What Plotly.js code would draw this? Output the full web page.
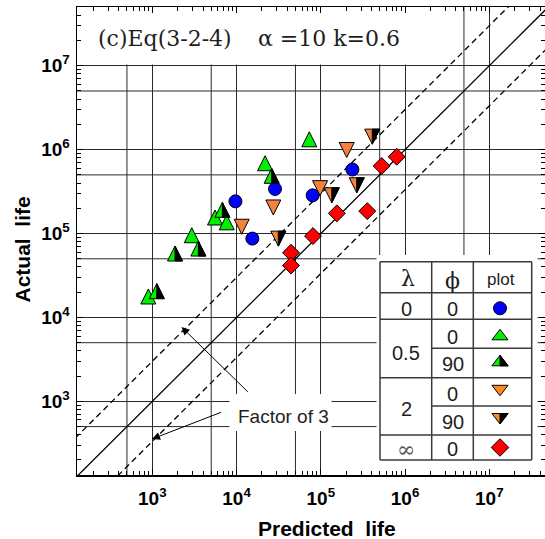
<!DOCTYPE html>
<html>
<head>
<meta charset="utf-8">
<script src="https://cdn.plot.ly/plotly-3.0.1.min.js"></script>
<style>html,body{margin:0;padding:0;background:#fff;}</style>
</head>
<body>
<div id="chart" style="width:545px;height:539px;"></div>
<script>
// Predicted vs. actual fatigue life, Eq(3-2-4), alpha = 10, k = 0.6

// lambda = 0, phi = 0
const predL0 = [9.7e3, 1.54e4, 2.86e4, 8.0e4, 2.37e5];
const actL0  = [2.42e5, 8.7e4, 3.4e5, 2.85e5, 5.8e5];
// lambda = 0.5, phi = 0
const predL05P0 = [897, 2.94e3, 5.55e3, 7.64e3, 2.18e4, 7.3e4];
const actL05P0  = [1.66e4, 8.91e4, 1.45e5, 1.27e5, 6.43e5, 1.24e6];
// lambda = 0.5, phi = 90
const predL05P90 = [1.13e3, 1.86e3, 3.52e3, 6.78e3, 2.61e4];
const actL05P90  = [1.92e4, 5.40e4, 6.18e4, 1.79e5, 4.55e5];
// lambda = 2, phi = 0
const predL2P0 = [1.15e4, 2.73e4, 9.8e4, 2.03e5];
const actL2P0  = [1.29e5, 2.19e5, 3.72e5, 1.06e6];
// lambda = 2, phi = 90
const predL2P90 = [3.13e4, 1.35e5, 2.67e5, 4.08e5];
const actL2P90  = [9.31e4, 3.06e5, 4.03e5, 1.53e6];
// lambda = infinity, phi = 0
const predLinf = [4.43e4, 4.43e4, 8.07e4, 1.55e5, 3.56e5, 5.28e5, 7.96e5];
const actLinf  = [5.9e4, 4.16e4, 9.33e4, 1.74e5, 1.85e5, 6.38e5, 8.22e5];

// agreement line and factor-of-3 band
const FACTOR = 3;
const LINE_X = [1e2, 1e8];

// axis ticks: labelled decades, extra gridlines at 5 x 10^n
const DECADES = [1e3, 1e4, 1e5, 1e6, 1e7];
const DECADE_LABELS = ['10<sup>3</sup>', '10<sup>4</sup>', '10<sup>5</sup>', '10<sup>6</sup>', '10<sup>7</sup>'];
const HALF_DECADES = [5e2, 5e3, 5e4, 5e5, 5e6];
const MINOR_MANTISSA = [2, 3, 4, 5, 6, 7, 8, 9];
const MINOR_EXP = [2, 3, 4, 5, 6, 7];

// key table
const KEY_LAMBDA = ['0', '0.5', '2', '\u221e'];
const KEY_PHI = ['0', '0', '90', '0', '90', '0'];

// ---- frame geometry (pixels) ----
const XR = [2.106, 7.661], YR = [2.122, 7.700];
const PL = 77, PT = 7, PW = 468, PH = 468;
const fx = px => Math.pow(10, XR[0] + (px - PL) / PW * (XR[1] - XR[0]));
const fy = py => Math.pow(10, YR[0] + (PT + PH - py) / PH * (YR[1] - YR[0]));
const paperX = px => (px - PL) / PW;
const paperY = py => (PT + PH - py) / PH;

const BLUE = '#0000ff', GREEN = '#00f000', ORANGE = '#f5823c', KEY_ORANGE = '#ff8a1c', RED = '#ff0000';
const OUTLINE = {color: '#000', width: 1};
const GRID = '#2a2a2a';

// tall triangles: arrow symbols shifted so the centroid sits on the point
const TRI_UP = {symbol: 'arrow-down', angle: 180, standoff: 10, size: 15};
const TRI_DOWN = {symbol: 'arrow-down', angle: 0, standoff: 10, size: 15};
const HALF_UP = 'M0,10 L7.5,-5 L0,-5 Z';
const HALF_DOWN = 'M0,-10 L7.5,5 L0,5 Z';
const KEY_HALF_UP = 'M0,7 L8.08,-3.5 L0,-3.5 Z';
const KEY_HALF_DOWN = 'M0,-7 L8.08,3.5 L0,3.5 Z';

const minorVals = [];
MINOR_EXP.forEach(e => MINOR_MANTISSA.forEach(m => minorVals.push(m * Math.pow(10, e))));

function pts(x, y, marker) {
  return {x: x, y: y, type: 'scatter', mode: 'markers', hoverinfo: 'skip',
          marker: Object.assign({line: OUTLINE}, marker)};
}
function refLine(k, dash) {
  return {x: LINE_X, y: LINE_X.map(v => v * k), type: 'scatter', mode: 'lines', hoverinfo: 'skip',
          line: {color: '#000', width: 1.3, dash: dash}};
}

const traces = [
  refLine(1, 'solid'),
  refLine(FACTOR, '6px,4px'),
  refLine(1 / FACTOR, '6px,4px'),
  pts(predL05P0, actL05P0, Object.assign({color: GREEN}, TRI_UP)),
  pts(predL05P90, actL05P90, Object.assign({color: GREEN}, TRI_UP)),
  pts(predL0, actL0, {symbol: 'circle', size: 13, color: BLUE}),
  pts(predL2P0, actL2P0, Object.assign({color: ORANGE}, TRI_DOWN)),
  pts(predL2P90, actL2P90, Object.assign({color: ORANGE}, TRI_DOWN)),
  pts(predLinf, actLinf, {symbol: 'diamond', size: 13, color: RED})
];

// key symbols
const KEY_X = 500;
const keyRows = [308.3, 336.3, 362.3, 388.8, 417, 447.5];
traces.push(pts([fx(KEY_X)], [fy(keyRows[0])], {symbol: 'circle', size: 13, color: BLUE}));
traces.push(pts([fx(KEY_X)], [fy(keyRows[1])], {symbol: 'triangle-up', size: 14, color: GREEN}));
traces.push(pts([fx(KEY_X)], [fy(keyRows[2])], {symbol: 'triangle-up', size: 14, color: GREEN}));
traces.push(pts([fx(KEY_X)], [fy(keyRows[3])], {symbol: 'triangle-down', size: 14, color: KEY_ORANGE}));
traces.push(pts([fx(KEY_X)], [fy(keyRows[4])], {symbol: 'triangle-down', size: 14, color: KEY_ORANGE}));
traces.push(pts([fx(KEY_X)], [fy(keyRows[5])], {symbol: 'diamond', size: 13.5, color: RED}));

const shapes = [];
// gridlines at 5 x 10^n on both axes
HALF_DECADES.forEach(v => {
  shapes.push({type: 'line', layer: 'below', xref: 'x', yref: 'paper', x0: v, x1: v, y0: 0, y1: 1,
               line: {color: GRID, width: 1}});
  shapes.push({type: 'line', layer: 'below', xref: 'paper', yref: 'y', x0: 0, x1: 1, y0: v, y1: v,
               line: {color: GRID, width: 1}});
});

function whiteBox(x0, y0, x1, y1) {
  shapes.push({type: 'rect', xref: 'x', yref: 'y', layer: 'between',
               x0: fx(x0), x1: fx(x1), y0: fy(y1), y1: fy(y0),
               fillcolor: '#fff', line: {width: 0}});
}
whiteBox(PL, PT, 442, 64.5);          // heading
whiteBox(229.5, 394, 331.5, 431);     // "Factor of 3"
whiteBox(376.5, 255, 537.5, PT + PH); // key table

function tline(x0, y0, x1, y1) {
  shapes.push({type: 'line', xref: 'x', yref: 'y', layer: 'between',
               x0: fx(x0), x1: fx(x1), y0: fy(y0), y1: fy(y1),
               line: {color: '#3a3a3a', width: 1.5}});
}
const TX = [380, 431.7, 473.3, 531.7];
const TY = [261.7, 292.7, 319.3, 348.3, 377.7, 406, 435, 460];
tline(TX[0], TY[0], TX[3], TY[0]);
tline(TX[0], TY[7], TX[3], TY[7]);
tline(TX[0], TY[0], TX[0], TY[7]);
tline(TX[3], TY[0], TX[3], TY[7]);
tline(TX[1], TY[0], TX[1], TY[7]);
tline(TX[2], TY[0], TX[2], TY[7]);
[1, 2, 4, 6].forEach(i => tline(TX[0], TY[i], TX[3], TY[i]));
[3, 5].forEach(i => tline(TX[1], TY[i], TX[3], TY[i]));

// black right halves of the phi = 90 symbols
function halves(xs, ys, path) {
  xs.forEach((x, i) => shapes.push({type: 'path', xref: 'x', yref: 'y', layer: 'above',
    xsizemode: 'pixel', ysizemode: 'pixel', xanchor: x, yanchor: ys[i], path: path,
    fillcolor: '#000', line: {color: '#000', width: 1}}));
}
halves(predL05P90, actL05P90, HALF_UP);
halves(predL2P90, actL2P90, HALF_DOWN);
halves([fx(KEY_X)], [fy(keyRows[2])], KEY_HALF_UP);
halves([fx(KEY_X)], [fy(keyRows[4])], KEY_HALF_DOWN);

const SANS = 'Liberation Sans, Arial, sans-serif';
const SERIF = 'DejaVu Serif, serif';
const INK = '#1e1e1e';
function label(text, px, py, opts) {
  return Object.assign({text: text, xref: 'paper', yref: 'paper', x: paperX(px), y: paperY(py),
    showarrow: false, xanchor: 'center', yanchor: 'middle',
    font: {family: SANS, size: 20, color: INK}}, opts || {});
}
const annotations = [
  label('(c)Eq(3-2-4)', 96, 39, {xanchor: 'left', font: {family: SERIF, size: 22, color: INK}}),
  label('\u03b1 =10 k=0.6', 256, 39, {xanchor: 'left', font: {family: SERIF, size: 22, color: INK}}),
  label('Factor of 3', 235.5, 416, {xanchor: 'left', font: {family: SANS, size: 19, color: INK}}),
  label('Predicted\u00a0\u00a0life', 326.5, 528, {font: {family: SANS, size: 21, color: '#000', weight: 'bold'}}),
  label('Actual\u00a0\u00a0life', 22.5, 250, {textangle: -90, font: {family: SANS, size: 21, color: '#000', weight: 'bold'}}),
  // key table text
  label('\u03bb', 408, 279, {font: {family: SERIF, size: 22, color: INK}}),
  label('\u03d5', 452, 281, {font: {family: SERIF, size: 22, color: INK}}),
  label('plot', 501, 280, {font: {family: SANS, size: 17, color: INK}}),
  label(KEY_LAMBDA[0], 406, 309),
  label(KEY_LAMBDA[1], 406, 353),
  label(KEY_LAMBDA[2], 406, 409),
  label(KEY_LAMBDA[3], 406, 449, {font: {family: SERIF, size: 22, color: '#555'}}),
  label(KEY_PHI[0], 452.5, 309),
  label(KEY_PHI[1], 452.5, 337),
  label(KEY_PHI[2], 452.5, 364),
  label(KEY_PHI[3], 452.5, 394),
  label(KEY_PHI[4], 452.5, 422),
  label(KEY_PHI[5], 452.5, 449),
  // arrows pointing at the factor-of-3 lines
  {text: '', xref: 'paper', yref: 'paper', x: paperX(181.5), y: paperY(327), showarrow: true,
   ax: 67.8, ay: 66.3, axref: 'pixel', ayref: 'pixel', arrowhead: 2, arrowsize: 1.6, arrowwidth: 1,
   arrowcolor: '#000', standoff: 0, startstandoff: 0},
  {text: '', xref: 'paper', yref: 'paper', x: paperX(152), y: paperY(439), showarrow: true,
   ax: 70.7, ay: -27.3, axref: 'pixel', ayref: 'pixel', arrowhead: 2, arrowsize: 1.6, arrowwidth: 1,
   arrowcolor: '#000', standoff: 0, startstandoff: 0}
];

function axis(range, standoff) {
  return {
    type: 'log', range: range, autorange: false,
    tickmode: 'array', tickvals: DECADES, ticktext: DECADE_LABELS,
    ticks: 'inside', ticklen: 6, tickwidth: 1, tickcolor: '#000',
    ticklabelstandoff: standoff,
    showline: true, linecolor: '#000', linewidth: 1.5, mirror: 'allticks',
    showgrid: true, gridcolor: GRID, gridwidth: 1, zeroline: false,
    tickfont: {family: SANS, size: 19, color: '#000', weight: 'bold'},
    minor: {tickmode: 'array', tickvals: minorVals, ticks: 'inside', ticklen: 4, tickcolor: '#000', showgrid: false},
    fixedrange: true
  };
}

const layout = {
  width: 545, height: 539,
  margin: {l: PL, r: 545 - PL - PW, t: PT, b: 539 - PT - PH, pad: 0},
  paper_bgcolor: '#fff', plot_bgcolor: '#fff',
  showlegend: false,
  xaxis: axis(XR, 6),
  yaxis: axis(YR, 2),
  shapes: shapes,
  annotations: annotations
};

Plotly.newPlot('chart', traces, layout, {staticPlot: true, displayModeBar: false});
</script>
</body>
</html>
